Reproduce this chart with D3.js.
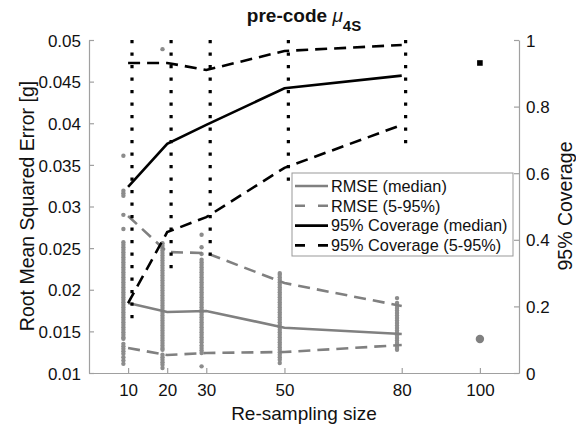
<!DOCTYPE html>
<html>
<head>
  <meta charset="UTF-8">
  <style>
    body {
      margin: 0;
      padding: 0;
      background-color: white;
      font-family: "Liberation Sans", Arial, Helvetica, sans-serif;
    }
    svg text {
      fill: #111;
    }
  </style>
</head>
<body>
<svg></svg>
<script src="https://d3js.org/d3.v7.min.js"></script>
<script>
// re-sampling sizes
let sizes = [10, 20, 30, 50, 80];
let xTicks = [10, 20, 30, 50, 80, 100];

// RMSE summaries (left axis)
let rmseMedian = [0.0184, 0.01733, 0.01745, 0.01544, 0.01468];
let rmseLow = [0.0130, 0.01216, 0.0124, 0.01252, 0.01336];
let rmseHigh = [0.02886, 0.02453, 0.02441, 0.02081, 0.01805];

// coverage summaries (right axis)
let covMedian = [0.559, 0.688, 0.745, 0.855, 0.893];
let covLow = [0.21, 0.423, 0.468, 0.616, 0.745];
let covHigh = [0.931, 0.931, 0.910, 0.967, 0.985];
let covMin = [0.147, 0.297, 0.333, 0.556, 0.670];
let covMax = [1, 1, 1, 1, 1];

// full sample (size 100)
let fullSize = 100;
let fullRmse = 0.01408;
let fullCov = 0.931;

// individual RMSE values per re-sampling size
let rmseDots10 = [0.0361, 0.0319, 0.0316, 0.0313, 0.0290, 0.0273, 0.0257, 0.0254, 0.0251, 0.0248,
  0.0245, 0.0242, 0.0239, 0.0236, 0.0233, 0.0230, 0.0227, 0.0224, 0.0221, 0.0218, 0.0215,
  0.0212, 0.0209, 0.0206, 0.0203, 0.0200, 0.0197, 0.0194, 0.0191, 0.0188, 0.0185, 0.0182,
  0.0179, 0.0176, 0.0173, 0.0170, 0.0167, 0.0164, 0.0161, 0.0158, 0.0155, 0.0152, 0.0149,
  0.0146, 0.0143, 0.0141, 0.0135, 0.0132, 0.0129, 0.0126, 0.0123, 0.0119, 0.0115, 0.0111];
let rmseDots20 = [0.0489, 0.0256, 0.0253, 0.0250, 0.0247, 0.0244, 0.0241, 0.0238, 0.0235, 0.0232,
  0.0229, 0.0226, 0.0223, 0.0220, 0.0217, 0.0214, 0.0211, 0.0208, 0.0205, 0.0202, 0.0199,
  0.0196, 0.0193, 0.0190, 0.0187, 0.0184, 0.0181, 0.0178, 0.0175, 0.0172, 0.0169, 0.0166,
  0.0163, 0.0160, 0.0157, 0.0154, 0.0151, 0.0148, 0.0145, 0.0142, 0.0139, 0.0136, 0.0133,
  0.0130, 0.0128, 0.0122, 0.0119, 0.0116, 0.0113, 0.0110, 0.0106];
let rmseDots30 = [0.0266, 0.0251, 0.0243, 0.0236, 0.0233, 0.0230, 0.0227, 0.0224, 0.0221, 0.0218,
  0.0215, 0.0212, 0.0209, 0.0206, 0.0203, 0.0200, 0.0197, 0.0194, 0.0191, 0.0188, 0.0185,
  0.0182, 0.0179, 0.0176, 0.0173, 0.0170, 0.0167, 0.0164, 0.0161, 0.0158, 0.0155, 0.0152,
  0.0149, 0.0146, 0.0143, 0.0140, 0.0137, 0.0133, 0.0130, 0.0127, 0.0124, 0.0108];
let rmseDots50 = [0.0220, 0.0218, 0.0215, 0.0212, 0.0209, 0.0206, 0.0203, 0.0200, 0.0197, 0.0194,
  0.0191, 0.0188, 0.0185, 0.0182, 0.0179, 0.0176, 0.0173, 0.0170, 0.0167, 0.0164, 0.0161,
  0.0158, 0.0155, 0.0152, 0.0149, 0.0146, 0.0143, 0.0140, 0.0137, 0.0134, 0.0131, 0.0128,
  0.0125, 0.0122, 0.0119, 0.0116, 0.0112];
let rmseDots80 = [0.0190, 0.0184, 0.0181, 0.0178, 0.0175, 0.0172, 0.0169, 0.0166, 0.0163, 0.0160,
  0.0157, 0.0154, 0.0151, 0.0148, 0.0145, 0.0142, 0.0139, 0.0136, 0.0133, 0.0130, 0.0128];
let rmseDots = [rmseDots10, rmseDots20, rmseDots30, rmseDots50, rmseDots80];

let yLeftTicks = [0.01, 0.015, 0.02, 0.025, 0.03, 0.035, 0.04, 0.045, 0.05];
let yRightTicks = [0, 0.2, 0.4, 0.6, 0.8, 1];

let legendItems = [
  {label: "RMSE (median)", color: "#808080", dash: null},
  {label: "RMSE (5-95%)", color: "#808080", dash: "10,13"},
  {label: "95% Coverage (median)", color: "#000", dash: null},
  {label: "95% Coverage (5-95%)", color: "#000", dash: "10,13"}
];

let width = 576, height = 426;
let plotLeft = 89, plotRight = 519, plotTop = 40, plotBottom = 373;
let gray = "#808080", axisColor = "#a0a0a0";

let svg = d3.select("svg")
    .attr("width", width)
    .attr("height", height);

let x = d3.scaleLinear().domain([0, 110]).range([plotLeft, plotRight]);
let yL = d3.scaleLinear().domain([0.01, 0.05]).range([plotBottom, plotTop]);
let yR = d3.scaleLinear().domain([0, 1]).range([plotBottom, plotTop]);

// axes
let xAxis = svg.append("g")
    .attr("transform", `translate(0,${plotBottom})`)
    .call(d3.axisBottom(x).tickValues(xTicks).tickSizeInner(-5).tickSizeOuter(0).tickPadding(11));
let yAxisL = svg.append("g")
    .attr("transform", `translate(${plotLeft},0)`)
    .call(d3.axisLeft(yL).tickValues(yLeftTicks).tickFormat(d3.format("")).tickSizeInner(-5).tickSizeOuter(0).tickPadding(8));
let yAxisR = svg.append("g")
    .attr("transform", `translate(${plotRight},0)`)
    .call(d3.axisRight(yR).tickValues(yRightTicks).tickFormat(d3.format("")).tickSizeInner(-5).tickSizeOuter(0).tickPadding(7));

[xAxis, yAxisL, yAxisR].forEach(a => {
    a.select(".domain").attr("stroke", axisColor).attr("stroke-width", 1.2);
    a.selectAll(".tick line").attr("stroke", axisColor).attr("stroke-width", 1.2);
    a.selectAll(".tick text")
        .style("font-family", "'Liberation Sans', Arial, sans-serif")
        .style("font-size", "17px")
        .attr("fill", "#111");
});
yAxisL.selectAll(".tick text").attr("dy", "0.36em");
yAxisR.selectAll(".tick text").attr("dy", "0.36em");

// labels
svg.append("text")
    .attr("transform", `translate(34,206) rotate(-90)`)
    .attr("text-anchor", "middle")
    .style("font-size", "19.5px")
    .text("Root Mean Squared Error [g]");

svg.append("text")
    .attr("transform", `translate(572,206) rotate(-90)`)
    .attr("text-anchor", "middle")
    .style("font-size", "19.5px")
    .text("95% Coverage");

svg.append("text")
    .attr("x", (plotLeft + plotRight) / 2)
    .attr("y", 420)
    .attr("text-anchor", "middle")
    .style("font-size", "19px")
    .text("Re-sampling size");

let title = svg.append("text")
    .attr("x", (plotLeft + plotRight) / 2)
    .attr("y", 22)
    .attr("text-anchor", "middle")
    .style("font-size", "19px");
title.append("tspan").style("font-weight", "bold").text("pre-code ");
title.append("tspan").style("font-style", "italic").text("μ");
title.append("tspan").style("font-weight", "bold").style("font-size", "15px").attr("dy", 9).text("4S");

// RMSE scatter (offset slightly left)
let dotData = [];
sizes.forEach((s, i) => rmseDots[i].forEach(v => dotData.push({x: s - 1.2, v: v})));
svg.append("g").selectAll("circle")
    .data(dotData)
    .enter()
    .append("circle")
    .attr("cx", d => x(d.x))
    .attr("cy", d => yL(d.v))
    .attr("r", 2.2)
    .attr("fill", "#8c8c8c");

let lineL = d3.line().x((d, i) => x(sizes[i])).y(d => yL(d));
let lineR = d3.line().x((d, i) => x(sizes[i])).y(d => yR(d));

svg.append("path").attr("d", lineL(rmseMedian))
    .attr("fill", "none").attr("stroke", gray).attr("stroke-width", 2.6);
[rmseLow, rmseHigh].forEach(arr => {
    svg.append("path").attr("d", lineL(arr))
        .attr("fill", "none").attr("stroke", gray).attr("stroke-width", 2.6)
        .attr("stroke-dasharray", "12,7");
});

svg.append("circle")
    .attr("cx", x(fullSize))
    .attr("cy", yL(fullRmse))
    .attr("r", 4.2)
    .attr("fill", gray);

// coverage range, dotted (offset slightly right)
sizes.forEach((s, i) => {
    svg.append("line")
        .attr("x1", x(s + 1)).attr("x2", x(s + 1))
        .attr("y1", yR(covMax[i])).attr("y2", yR(covMin[i]))
        .attr("stroke", "#000").attr("stroke-width", 3.2)
        .attr("stroke-dasharray", "3.2,9.3");
});

svg.append("path").attr("d", lineR(covMedian))
    .attr("fill", "none").attr("stroke", "#000").attr("stroke-width", 2.6);
[covLow, covHigh].forEach(arr => {
    svg.append("path").attr("d", lineR(arr))
        .attr("fill", "none").attr("stroke", "#000").attr("stroke-width", 2.6)
        .attr("stroke-dasharray", "12,7");
});

svg.append("rect")
    .attr("x", x(fullSize) - 2.8)
    .attr("y", yR(fullCov) - 2.8)
    .attr("width", 5.6)
    .attr("height", 5.6)
    .attr("fill", "#000");

// legend
let legend = svg.append("g").attr("transform", "translate(292,173)");
legend.append("rect")
    .attr("width", 221).attr("height", 83)
    .attr("fill", "white").attr("stroke", "#999").attr("stroke-width", 1);
legendItems.forEach((d, i) => {
    let yy = 13 + i * 19.8;
    legend.append("line")
        .attr("x1", 3).attr("x2", 36).attr("y1", yy).attr("y2", yy)
        .attr("stroke", d.color).attr("stroke-width", 2.6)
        .attr("stroke-dasharray", d.dash);
    legend.append("text")
        .attr("x", 39).attr("y", yy).attr("dy", "0.36em")
        .style("font-size", "16.3px")
        .text(d.label);
});
</script>
</body>
</html>
